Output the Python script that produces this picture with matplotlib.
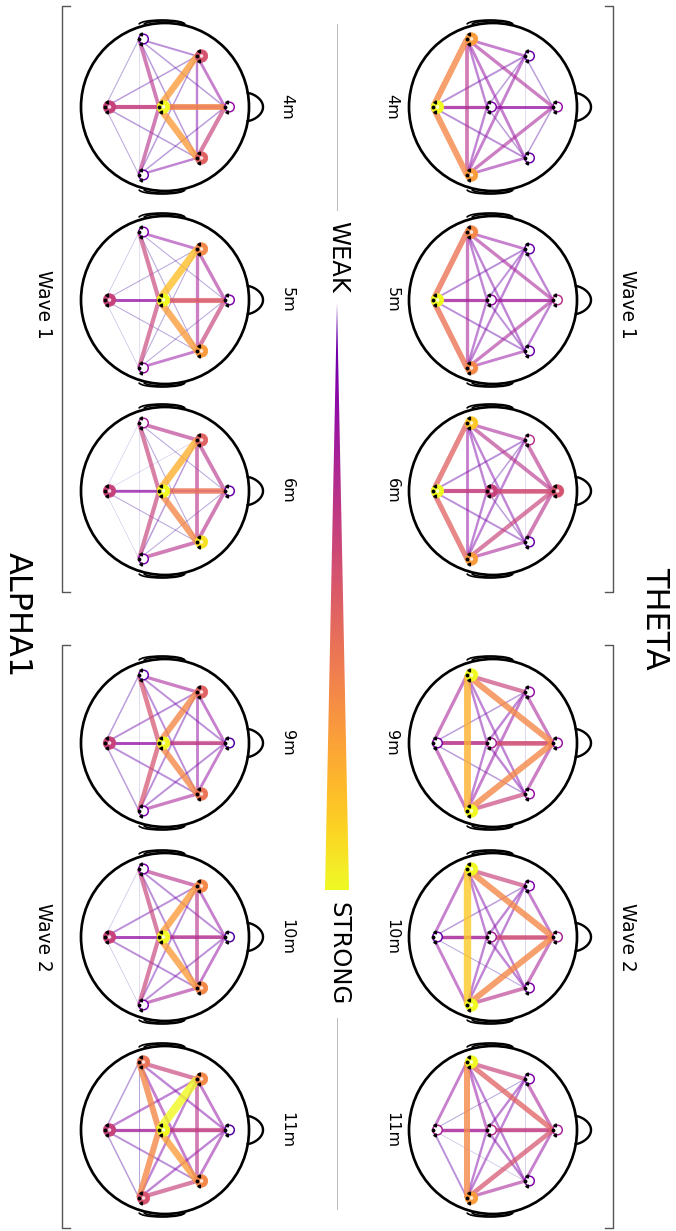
import numpy as np
import matplotlib
matplotlib.use("Agg")
import matplotlib.pyplot as plt
from matplotlib.patches import Circle, Polygon, Arc

# ---------------- data ----------------
bands = ["THETA", "ALPHA1"]
times = ["4m", "5m", "6m", "9m", "10m", "11m"]
waves = ["Wave 1", "Wave 2"]
node_names = ["B", "C", "F", "L", "FL", "FR", "R"]
edge_pairs = [(0, 1), (0, 2), (0, 3), (0, 4), (0, 5), (0, 6), (1, 2), (1, 3), (1, 4), (1, 5),
              (1, 6), (2, 3), (2, 4), (2, 5), (2, 6), (3, 4), (3, 5), (3, 6), (4, 5), (4, 6), (5, 6)]

# edge strengths (order as edge_pairs) for each time point
theta_edges = [
    [0.45, 0.40, 0.75, 0.30, 0.30, 0.75, 0.40, 0.35, 0.25, 0.25, 0.35, 0.45, 0.25, 0.25, 0.45, 0.40, 0.40, 0.50, 0.08, 0.40, 0.40],
    [0.45, 0.40, 0.70, 0.30, 0.30, 0.70, 0.45, 0.35, 0.30, 0.30, 0.35, 0.45, 0.35, 0.35, 0.45, 0.40, 0.35, 0.45, 0.08, 0.35, 0.40],
    [0.55, 0.50, 0.65, 0.30, 0.30, 0.65, 0.60, 0.35, 0.25, 0.25, 0.35, 0.50, 0.50, 0.50, 0.55, 0.45, 0.35, 0.40, 0.08, 0.35, 0.45],
    [0.50, 0.50, 0.45, 0.25, 0.25, 0.45, 0.60, 0.35, 0.35, 0.35, 0.35, 0.75, 0.45, 0.45, 0.75, 0.55, 0.35, 0.85, 0.10, 0.40, 0.55],
    [0.45, 0.45, 0.40, 0.25, 0.20, 0.40, 0.60, 0.35, 0.35, 0.35, 0.35, 0.75, 0.40, 0.45, 0.75, 0.55, 0.35, 0.90, 0.12, 0.35, 0.50],
    [0.45, 0.45, 0.40, 0.20, 0.15, 0.30, 0.55, 0.40, 0.35, 0.35, 0.35, 0.65, 0.45, 0.40, 0.60, 0.55, 0.35, 0.75, 0.15, 0.35, 0.45],
]
theta_nodes = [
    [1.00, 0.25, 0.30, 0.80, 0.20, 0.20, 0.80],
    [1.00, 0.30, 0.40, 0.75, 0.20, 0.20, 0.75],
    [1.00, 0.55, 0.60, 0.90, 0.40, 0.20, 0.80],
    [0.25, 0.35, 0.30, 1.00, 0.30, 0.30, 1.00],
    [0.20, 0.35, 0.35, 1.00, 0.25, 0.25, 1.00],
    [0.35, 0.40, 0.35, 1.00, 0.25, 0.25, 0.80],
]
alpha_edges = [
    [0.55, 0.50, 0.20, 0.25, 0.25, 0.20, 0.75, 0.50, 0.80, 0.80, 0.50, 0.25, 0.40, 0.55, 0.25, 0.30, 0.25, 0.05, 0.35, 0.25, 0.35],
    [0.40, 0.40, 0.15, 0.20, 0.20, 0.15, 0.65, 0.55, 0.88, 0.80, 0.55, 0.20, 0.45, 0.55, 0.20, 0.40, 0.20, 0.05, 0.45, 0.20, 0.40],
    [0.40, 0.35, 0.10, 0.05, 0.20, 0.10, 0.70, 0.55, 0.85, 0.75, 0.55, 0.20, 0.50, 0.50, 0.20, 0.50, 0.20, 0.05, 0.50, 0.25, 0.50],
    [0.40, 0.40, 0.25, 0.30, 0.30, 0.25, 0.55, 0.60, 0.75, 0.75, 0.60, 0.30, 0.40, 0.40, 0.30, 0.45, 0.30, 0.05, 0.40, 0.30, 0.45],
    [0.40, 0.40, 0.15, 0.30, 0.30, 0.15, 0.50, 0.55, 0.80, 0.80, 0.55, 0.30, 0.40, 0.40, 0.30, 0.50, 0.30, 0.05, 0.50, 0.30, 0.45],
    [0.40, 0.45, 0.25, 0.35, 0.30, 0.25, 0.55, 0.75, 1.00, 0.80, 0.75, 0.35, 0.40, 0.40, 0.35, 0.55, 0.40, 0.20, 0.50, 0.35, 0.55],
]
alpha_nodes = [
    [0.55, 1.00, 0.30, 0.20, 0.60, 0.65, 0.20],
    [0.55, 1.00, 0.25, 0.25, 0.75, 0.80, 0.30],
    [0.55, 1.00, 0.20, 0.35, 0.65, 0.95, 0.25],
    [0.55, 1.00, 0.15, 0.20, 0.65, 0.70, 0.25],
    [0.55, 1.00, 0.15, 0.25, 0.75, 0.75, 0.25],
    [0.55, 1.00, 0.15, 0.70, 0.75, 0.75, 0.60],
]

# ---------------- layout ----------------
W, H = 676, 1231
fig = plt.figure(figsize=(W / 100, H / 100), dpi=100)
ax = fig.add_axes([0, 0, 1, 1])
ax.set_xlim(0, W)
ax.set_ylim(H, 0)
ax.axis("off")

cmap = plt.get_cmap("plasma")
PT = 0.72  # points per pixel at dpi 100


def col(w):
    return cmap(float(np.clip(1.15 * w - 0.15, 0.05, 1.0)))


# electrode layout (rotated head, nose to the right), in pixels from head centre
montage = np.array([[-60, 0], [-6, 0], [60, 0], [-26, -68], [32, -51], [32, 51], [-26, 68]], float)
R_HEAD = 84
col_x = {"THETA": 493, "ALPHA1": 165}
row_y = [107, 300, 491, 743, 937, 1130]
label_x = {"THETA": 392, "ALPHA1": 287}


def draw_head(hx, hy):
    ax.add_patch(Circle((hx, hy), R_HEAD, fill=False, ec="black", lw=2.7 * PT, zorder=2))
    # nose (right side)
    t = np.linspace(-1, 1, 60)
    ny = hy + 14 * t
    nx = hx + np.sqrt(R_HEAD ** 2 - (14 * t) ** 2) + 14 * np.sqrt(1 - t ** 2) ** 1.3
    ax.plot(nx, ny, color="black", lw=2.4 * PT, zorder=2)
    # ears (top and bottom) - flat double outline hugging the skull
    for sgn in (-1, 1):
        for off, wd, ht in ((0, 46, 9), (2, 40, 7)):
            a = Arc((hx - 3 + off, hy + sgn * (R_HEAD - 1.5)), wd, ht,
                    theta1=180 if sgn < 0 else 0, theta2=360 if sgn < 0 else 180,
                    color="black", lw=1.7 * PT, zorder=2)
            ax.add_patch(a)


def draw_network(hx, hy, ew, nw):
    pos = montage + np.array([hx, hy])
    order = np.argsort(ew)
    for k in order:
        w = ew[k]
        i, j = edge_pairs[k]
        lw = max(0.6, 0.6 + 9.0 * (w - 0.15)) * PT
        al = float(np.clip(0.15 + 0.95 * w, 0.22, 0.8))
        ax.plot([pos[i, 0], pos[j, 0]], [pos[i, 1], pos[j, 1]], color=col(w), lw=lw,
                alpha=al, solid_capstyle="butt", zorder=3)
    for n in range(len(node_names)):
        s = nw[n]
        x, y = pos[n]
        if s >= 0.5:
            ax.add_patch(Circle((x + 4.5, y), 6.2, fc=col(s), ec=col(s), lw=0.8 * PT, zorder=4))
            ax.add_patch(Circle((x + 4.5, y), 1.8, fc="white", ec="none", alpha=0.8, zorder=4))
        else:
            ax.add_patch(Circle((x + 4.5, y), 4.8, fc="white", ec=col(s + 0.1), lw=1.5 * PT, zorder=4))
        ax.plot([x + 1.5, x + 1.5], [y - 4.8, y + 4.8], ls="none", marker=(3, 0, 90), ms=2.6,
                color="black", zorder=5)
        ax.plot([x], [y], marker="o", ms=1.8, color="black", ls="none", zorder=5)


for band, E, N in (("THETA", theta_edges, theta_nodes), ("ALPHA1", alpha_edges, alpha_nodes)):
    hx = col_x[band]
    for r, (tl, hy) in enumerate(zip(times, row_y)):
        draw_head(hx, hy)
        draw_network(hx, hy, E[r], N[r])
        ax.text(label_x[band], hy, tl, rotation=-90, ha="center", va="center", fontsize=11.5)

# band titles
ax.text(655, 618, "THETA", rotation=-90, ha="center", va="center", fontsize=23)
ax.text(17, 615, "ALPHA1", rotation=-90, ha="center", va="center", fontsize=23)

# wave brackets and labels
br_col = "#555555"
for (y0, y1), wl in zip(((6, 592), (645, 1228)), waves):
    for bx, d in ((613, -8), (62, 8)):
        ax.plot([bx + d, bx, bx, bx + d], [y0, y0, y1, y1], color=br_col, lw=1.4 * PT, zorder=1)
    yc = (y0 + y1) / 2 + (5 if y0 < 100 else 1)
    ax.text(628, yc, wl, rotation=-90, ha="center", va="center", fontsize=13.4)
    ax.text(43, yc, wl, rotation=-90, ha="center", va="center", fontsize=13.4)

# colour wedge
cx, top, bot, half = 337, 303, 890, 12
grad = np.linspace(0.15, 1.0, 256).reshape(-1, 1)
im = ax.imshow(grad, cmap=cmap, vmin=0, vmax=1, aspect="auto",
               extent=[cx - half, cx + half, bot, top], zorder=2, interpolation="bilinear")
tri = Polygon([(cx, top), (cx - half, bot), (cx + half, bot)], closed=True, transform=ax.transData)
im.set_clip_path(tri)
ax.set_xlim(0, W)
ax.set_ylim(H, 0)
ax.plot([cx, cx], [24, 210], color="#bbbbbb", lw=1.0 * PT)
ax.plot([cx, cx], [1018, 1209], color="#bbbbbb", lw=1.0 * PT)
ax.text(cx + 1, 257, "WEAK", rotation=-90, ha="center", va="center", fontsize=17.5)
ax.text(cx + 1, 954, "STRONG", rotation=-90, ha="center", va="center", fontsize=17.5)

fig.savefig("out.png", dpi=100)
